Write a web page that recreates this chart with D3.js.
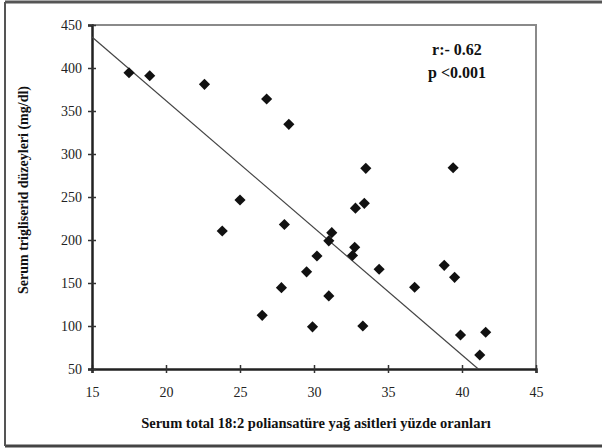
<!DOCTYPE html>
<html>
<head>
<meta charset="utf-8">
<script src="https://cdn.jsdelivr.net/npm/d3@7"></script>
<style>
  body { margin: 0; background: #fff; }
  text { font-family: "Liberation Serif", "Times New Roman", serif; }
</style>
</head>
<body>
<svg id="chart" width="602" height="448"></svg>
<script>
// values
const fatPct = [17.5, 18.9, 22.6, 26.8, 28.3, 25.0, 23.8, 28.0, 27.8, 26.5,
                33.5, 39.4, 32.8, 33.4, 31.2, 31.0, 30.2, 29.5, 31.0, 29.9,
                33.3, 32.75, 32.6, 34.4, 36.8, 38.8, 39.5, 39.9, 41.6, 41.2];
const trig = [394.5, 391, 381, 364, 334.5, 246.5, 210.5, 218, 144.6, 112.4,
              283.3, 284, 237, 242.6, 208.5, 199, 181.4, 163, 135, 99,
              100, 191.5, 182, 166, 145, 170.5, 156.6, 89.5, 92.7, 66.3];
const xTicks = [15, 20, 25, 30, 35, 40, 45];
const yTicks = [50, 100, 150, 200, 250, 300, 350, 400, 450];
// trend line end points
const lineX = [15, 41.1];
const lineY = [436, 50];
const stats = ["r:- 0.62", "p <0.001"];

const svg = d3.select("#chart");

const x = d3.scaleLinear().domain([15, 45]).range([92, 536]);
const y = d3.scaleLinear().domain([50, 450]).range([369, 25]);

// outer frame of the scanned figure
svg.append("line").attr("x1", 5).attr("x2", 602).attr("y1", 2).attr("y2", 2)
    .attr("stroke", "#555").attr("stroke-width", 3);
svg.append("line").attr("x1", 5).attr("x2", 602).attr("y1", 446).attr("y2", 446)
    .attr("stroke", "#444").attr("stroke-width", 3);
svg.append("line").attr("x1", 5).attr("x2", 5).attr("y1", 2).attr("y2", 446)
    .attr("stroke", "#555").attr("stroke-width", 2);

// top and right border of plot area
svg.append("path")
    .attr("d", `M${x(15)},${y(450)}H${x(45)}V${y(50)}`)
    .attr("fill", "none")
    .attr("stroke", "#8a8a8a")
    .attr("stroke-width", 2);

// axes
const xAxis = svg.append("g")
    .attr("transform", `translate(0,${y(50)})`)
    .call(d3.axisBottom(x).tickValues(xTicks).tickSize(4).tickFormat(d3.format("d")));
xAxis.selectAll(".tick line").attr("y1", -4).attr("y2", 4);
xAxis.selectAll(".tick text").attr("y", 18).style("font-size", "14px");

const yAxis = svg.append("g")
    .attr("transform", `translate(${x(15)},0)`)
    .call(d3.axisLeft(y).tickValues(yTicks).tickSize(4).tickFormat(d3.format("d")));
yAxis.selectAll(".tick line").attr("x1", -4).attr("x2", 4);
yAxis.selectAll(".tick text").attr("x", -10).style("font-size", "14px");

[xAxis, yAxis].forEach(a => {
    a.select(".domain").attr("stroke", "#222").attr("stroke-width", 2.5);
    a.selectAll(".tick line").attr("stroke", "#333").attr("stroke-width", 1.5);
    a.selectAll(".tick text").attr("fill", "#222").style("font-family", "Liberation Serif, serif");
});

// trend line
svg.append("line")
    .attr("x1", x(lineX[0])).attr("y1", y(lineY[0]))
    .attr("x2", x(lineX[1])).attr("y2", y(lineY[1]))
    .attr("stroke", "#444")
    .attr("stroke-width", 1.2);

// points
const diamond = d3.symbol(d3.symbolSquare).size(62);
svg.selectAll("path.pt")
    .data(fatPct.map((d, i) => ({ x: d, y: trig[i] })))
    .enter()
    .append("path")
    .attr("class", "pt")
    .attr("d", diamond)
    .attr("transform", d => `translate(${x(d.x)},${y(d.y)}) rotate(45)`)
    .attr("fill", "#111");

// stats
svg.selectAll("text.stat")
    .data(stats)
    .enter()
    .append("text")
    .attr("class", "stat")
    .attr("x", 457)
    .attr("y", (d, i) => 55 + i * 23)
    .attr("text-anchor", "middle")
    .style("font-size", "16px")
    .style("font-weight", "bold")
    .attr("fill", "#111")
    .text(d => d);

// axis titles
svg.append("text")
    .attr("x", 316)
    .attr("y", 428)
    .attr("text-anchor", "middle")
    .style("font-size", "14.5px")
    .style("font-weight", "bold")
    .attr("fill", "#111")
    .text("Serum total 18:2 poliansatüre yağ asitleri yüzde oranları");

svg.append("text")
    .attr("transform", "translate(28,190) rotate(-90)")
    .attr("text-anchor", "middle")
    .style("font-size", "14px")
    .style("font-weight", "bold")
    .attr("fill", "#111")
    .text("Serum trigliserid düzeyleri (mg/dl)");
</script>
</body>
</html>
